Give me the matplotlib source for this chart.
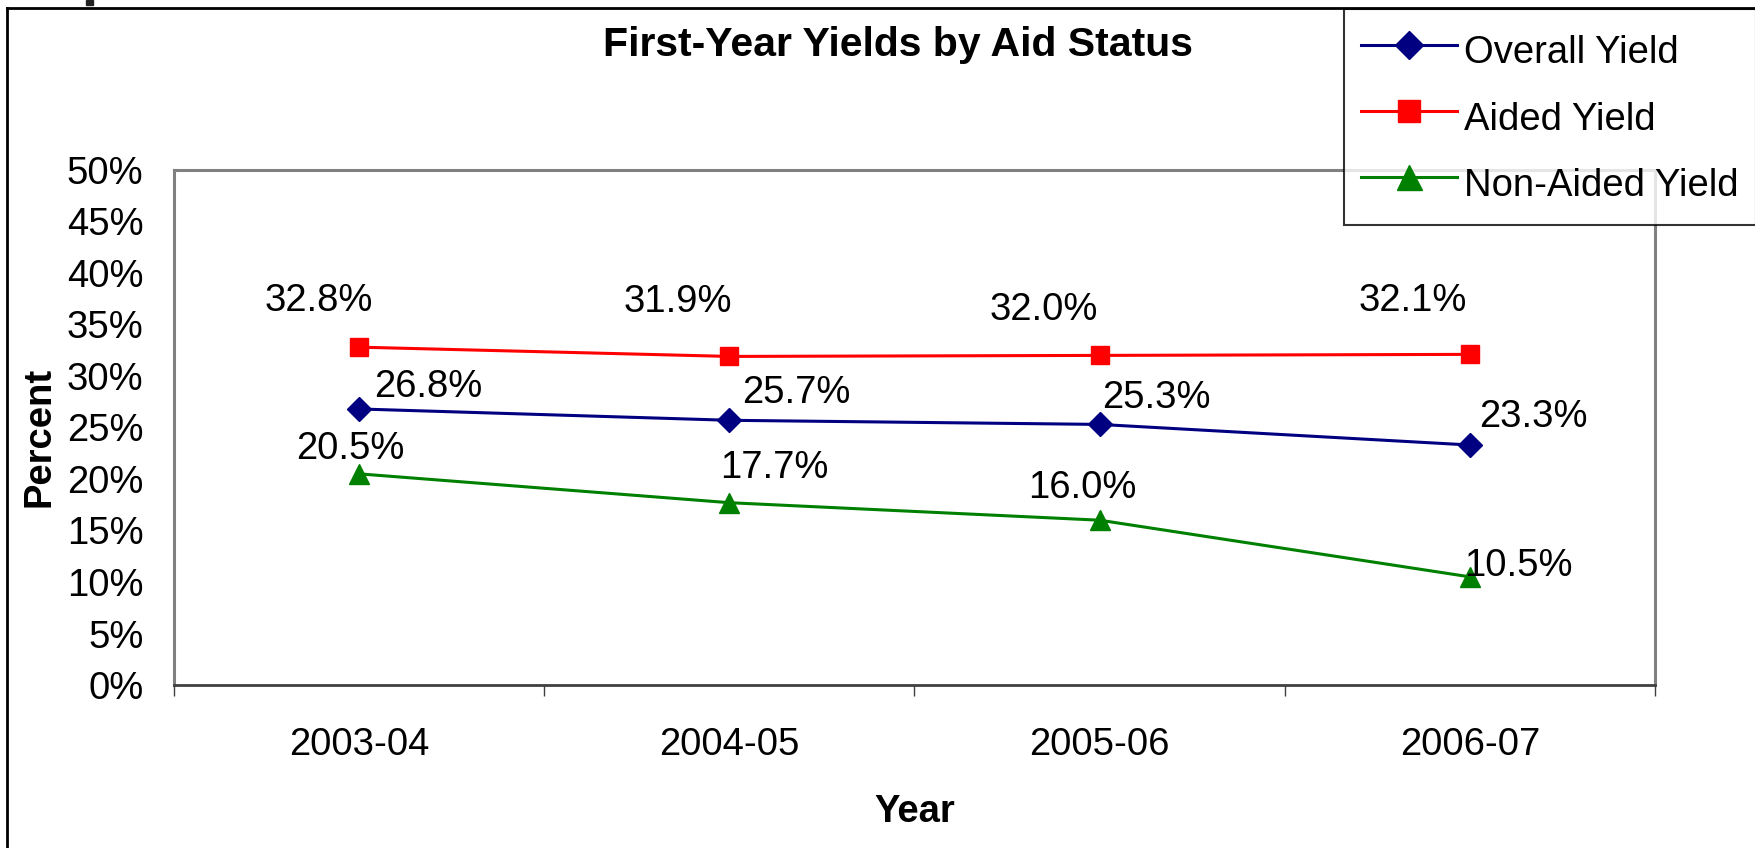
import matplotlib
matplotlib.use("Agg")
import matplotlib.pyplot as plt
from matplotlib.lines import Line2D
from matplotlib.patches import Rectangle
from matplotlib.ticker import FixedLocator, PercentFormatter

plt.rcParams["font.family"] = ["Liberation Sans", "DejaVu Sans"]

years = ["2003-04", "2004-05", "2005-06", "2006-07"]
overall_yield = [26.8, 25.7, 25.3, 23.3]
aided_yield = [32.8, 31.9, 32.0, 32.1]
non_aided_yield = [20.5, 17.7, 16.0, 10.5]

# label offsets in pixels (dx, dy) from each point
overall_offsets = [(69, 22), (67, 27), (57, 26), (64, 28)]
aided_offsets = [(-40, 46), (-52, 54), (-56, 45), (-57, 53)]
non_aided_offsets = [(-9, 25), (45, 35), (-17, 32), (49, 11)]

FS = 27.5
W, H = 1756, 848

fig = plt.figure(figsize=(W / 100, H / 100), dpi=100)
ax = fig.add_axes([174 / W, 1 - 685 / H, (1655 - 174) / W, (685 - 170) / H])

x = range(len(years))
series = [
    ("Overall Yield", overall_yield, overall_offsets, "#000080", "D", 12),
    ("Aided Yield", aided_yield, aided_offsets, "#FF0000", "s", 13),
    ("Non-Aided Yield", non_aided_yield, non_aided_offsets, "#008000", "^", 15),
]
for name, vals, offs, color, marker, ms in series:
    ax.plot(x, vals, color=color, lw=2.2, marker=marker, markersize=ms,
            markeredgecolor=color, label=name)
    for xi, v, (dx, dy) in zip(x, vals, offs):
        ax.annotate(f"{v:.1f}%", (xi, v), xytext=(dx, dy),
                    textcoords="offset pixels", ha="center", va="center",
                    fontsize=FS)

ax.set_xlim(-0.5, 3.5)
ax.set_ylim(0, 50)
ax.set_xticks(list(x))
ax.set_xticklabels(years, fontsize=FS)
ax.xaxis.set_minor_locator(FixedLocator([-0.5, 0.5, 1.5, 2.5, 3.5]))
ax.tick_params(axis="x", which="major", length=0, pad=30)
ax.tick_params(axis="x", which="minor", length=8, width=1.0, color="#404040",
               direction="out")
ax.set_yticks(range(0, 51, 5))
ax.yaxis.set_major_formatter(PercentFormatter(decimals=0))
ax.tick_params(axis="y", length=0, pad=22, labelsize=FS)

for side in ["left", "top", "right"]:
    ax.spines[side].set_color("#808080")
    ax.spines[side].set_linewidth(2.2)
ax.spines["bottom"].set_color("#404040")
ax.spines["bottom"].set_linewidth(2.0)

ax.set_xlabel("Year", fontsize=FS, fontweight="bold", va="center")
ax.xaxis.set_label_coords(0.5, (685 - 812) / 515)
ax.set_ylabel("Percent", fontsize=FS, fontweight="bold", va="center")
ax.yaxis.set_label_coords((40 - 174) / 1481, (685 - 437) / 515)

fig.text(898 / W, 1 - 45 / H, "First-Year Yields by Aid Status",
         fontsize=29.5, fontweight="bold", ha="center", va="center")

leg = ax.legend(loc="upper left", bbox_to_anchor=(1344 / W, 1 - 9 / H),
                bbox_transform=fig.transFigure, fontsize=FS, frameon=True,
                fancybox=False, edgecolor="black", handlelength=2.5,
                handleheight=1.6, borderpad=0.45, labelspacing=0.45,
                handletextpad=0.2, borderaxespad=0, markerscale=1.2)
leg.get_frame().set_linewidth(1.5)

# outer chart border and the clipped mark above it
fig.add_artist(Line2D([7 / W, 7 / W], [0, 1 - 8 / H], color="black", lw=2))
fig.add_artist(Line2D([7 / W, 1], [1 - 8 / H, 1 - 8 / H], color="black", lw=2))
fig.add_artist(Rectangle((86 / W, 1 - 5 / H), 7 / W, 5 / H,
                         transform=fig.transFigure, color="#222222"))

fig.savefig("out.png", dpi=100)
